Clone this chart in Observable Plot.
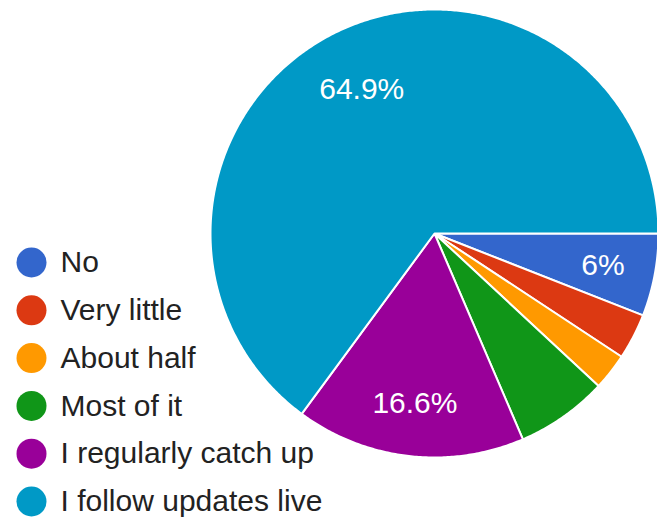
<!DOCTYPE html>
<html><head><meta charset="utf-8">
<script src="https://cdn.jsdelivr.net/npm/d3@7"></script>
<script src="https://cdn.jsdelivr.net/npm/@observablehq/plot@0.6"></script>
<style>body{margin:0;background:#fff}</style>
</head><body><div id="chart"></div>
<script>
// Data
const categories = ["No", "Very little", "About half", "Most of it", "I regularly catch up", "I follow updates live"];
const counts = [9, 5, 4, 10, 25, 98];
const sliceLabels = ["6%", "", "", "", "16.6%", "64.9%"];
const colors = ["#3366cc", "#dc3912", "#ff9900", "#109618", "#990099", "#0099c6"];

// Layout
const W = 657, H = 519, cx = 434, cy = 233, R = 224;
const legendX = 31, legendTextX = 60, legendY0 = 262, legendStep = 47.8;

const total = d3.sum(counts);
let acc = 0;
const slices = categories.map((c, i) => {
  const a0 = acc / total * 2 * Math.PI;
  acc += counts[i];
  const a1 = acc / total * 2 * Math.PI;
  return {c, i, a0, a1, share: counts[i] / total, label: sliceLabels[i]};
});
const pts = [];
for (const s of slices) {
  pts.push({c: s.c, x: 0, y: 0});
  const n = Math.max(2, Math.ceil((s.a1 - s.a0) / (Math.PI / 360)));
  for (let k = 0; k <= n; k++) {
    const a = s.a0 + (s.a1 - s.a0) * k / n;
    pts.push({c: s.c, x: Math.cos(a), y: Math.sin(a)});
  }
}
const labelData = slices.filter(s => s.label).map(s => {
  const m = (s.a0 + s.a1) / 2, lr = s.share > 0.5 ? 0.72 : 0.765;
  return {text: s.label, x: Math.cos(m) * lr, y: Math.sin(m) * lr};
});
const legend = categories.map((c, i) => ({
  c,
  x: (legendX - cx) / R,
  tx: (legendTextX - cx) / R,
  y: (legendY0 + legendStep * i - cy) / R
}));

const chart = Plot.plot({
  width: W, height: H,
  margin: 0,
  style: {fontFamily: "'Liberation Sans', Arial, sans-serif", background: "#fff", overflow: "hidden"},
  x: {domain: [-cx / R, (W - cx) / R], range: [0, W], axis: null},
  y: {domain: [-cy / R, (H - cy) / R], range: [0, H], axis: null},
  color: {domain: categories, range: colors},
  marks: [
    Plot.line(pts, {x: "x", y: "y", z: "c", fill: "c", stroke: "white", strokeWidth: 2, strokeLinejoin: "round", curve: "linear-closed"}),
    Plot.text(labelData, {x: "x", y: "y", text: "text", fill: "white", fontSize: 30}),
    Plot.dot(legend, {x: "x", y: "y", r: 15, fill: "c", stroke: null}),
    Plot.text(legend, {x: "tx", y: "y", text: "c", textAnchor: "start", fill: "#222", fontSize: 30})
  ]
});
document.getElementById("chart").appendChild(chart);
</script>
</body></html>
